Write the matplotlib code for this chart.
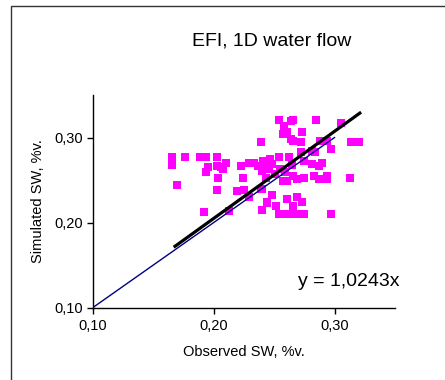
import matplotlib
matplotlib.use("Agg")
import matplotlib.pyplot as plt
from matplotlib.patches import Rectangle
import numpy as np

plt.rcParams['font.family'] = ['Liberation Sans', 'DejaVu Sans']

title = "EFI, 1D water flow"
x_label = "Observed SW, %v."
y_label = "Simulated SW, %v."
equation = "y = 1,0243x"
slope = 1.0243
tick_values = [0.10, 0.20, 0.30]
tick_labels = ["0,10", "0,20", "0,30"]

observed = [0.166, 0.166, 0.176, 0.170, 0.189, 0.194, 0.203, 0.195, 0.194, 0.203,
            0.206, 0.210, 0.208, 0.204, 0.203, 0.192, 0.213, 0.223, 0.229, 0.233,
            0.237, 0.241, 0.244, 0.224, 0.219, 0.225, 0.229, 0.239, 0.239, 0.240,
            0.244,
            0.254, 0.264, 0.266, 0.285, 0.305, 0.258, 0.261, 0.257, 0.273, 0.264,
            0.266, 0.272, 0.288, 0.294, 0.314, 0.320, 0.297, 0.272, 0.281, 0.284,
            0.247, 0.241, 0.243, 0.248, 0.254, 0.262, 0.265, 0.255, 0.259, 0.275,
            0.281, 0.287, 0.290, 0.240, 0.246, 0.251, 0.243, 0.266, 0.269, 0.275,
            0.283, 0.287, 0.294, 0.294, 0.313, 0.257, 0.261, 0.240, 0.248, 0.244,
            0.261, 0.269, 0.273, 0.266, 0.252, 0.254, 0.259, 0.265, 0.269, 0.275,
            0.297, 0.240]
simulated = [0.277, 0.268, 0.277, 0.244, 0.277, 0.277, 0.277, 0.265, 0.259, 0.267,
             0.265, 0.270, 0.263, 0.253, 0.238, 0.213, 0.214, 0.267, 0.270, 0.270,
             0.267, 0.273, 0.267, 0.252, 0.237, 0.238, 0.230, 0.295, 0.240, 0.215,
             0.224,
             0.321, 0.320, 0.321, 0.321, 0.317, 0.313, 0.306, 0.304, 0.307, 0.298,
             0.296, 0.295, 0.296, 0.296, 0.295, 0.295, 0.287, 0.283, 0.284, 0.283,
             0.275, 0.273, 0.269, 0.269, 0.277, 0.277, 0.268, 0.263, 0.259, 0.272,
             0.269, 0.267, 0.270, 0.261, 0.263, 0.257, 0.253, 0.255, 0.251, 0.252,
             0.255, 0.251, 0.255, 0.251, 0.252, 0.249, 0.249, 0.240, 0.233, 0.223,
             0.228, 0.230, 0.224, 0.220, 0.220, 0.210, 0.210, 0.210, 0.210, 0.210,
             0.210, 0.215]

one_to_one_x = [0.10, 0.30]
trend_x = [0.167, 0.322]

fig = plt.figure(figsize=(4.45, 3.80), dpi=100)
ax = fig.add_axes([0.2083, 0.1903, 0.6793, 0.5597])

ax.scatter(observed, simulated, marker='s', s=30, color='#FF00FF',
           linewidths=0, zorder=2)
ax.plot(one_to_one_x, one_to_one_x, color='#000080', lw=1.0, zorder=3)
ax.plot(trend_x, [slope * v for v in trend_x], color='black', lw=2.3,
        solid_capstyle='butt', zorder=4)

ax.set_xlim(0.10, 0.35)
ax.set_ylim(0.10, 0.35)
ax.set_xticks(tick_values)
ax.set_xticklabels(tick_labels)
ax.set_yticks(tick_values)
ax.set_yticklabels(tick_labels)
ax.tick_params(direction='out', length=4, width=1, labelsize=10.5, colors='black')
ax.tick_params(axis='x', pad=4)
ax.tick_params(axis='y', pad=3)
for s in ['top', 'right']:
    ax.spines[s].set_visible(False)
for s in ['left', 'bottom']:
    ax.spines[s].set_linewidth(1)
    ax.spines[s].set_color('black')

ax.set_xlabel(x_label, fontsize=10.5, labelpad=9)
ax.set_ylabel(y_label, fontsize=10.5, labelpad=7)

fig.text(272 / 445, 1 - 41 / 380, title, fontsize=14, ha='center', va='center')
ax.text(1.014, 0.125, equation, transform=ax.transAxes, fontsize=14,
        ha='right', va='center')

fig.add_artist(Rectangle((11 / 445, -0.1), 2.0, 0.1 + 1 - 6 / 380,
                         transform=fig.transFigure, fill=False,
                         edgecolor='#333333', lw=1.0, clip_on=False))

fig.savefig("out.png", dpi=100)
